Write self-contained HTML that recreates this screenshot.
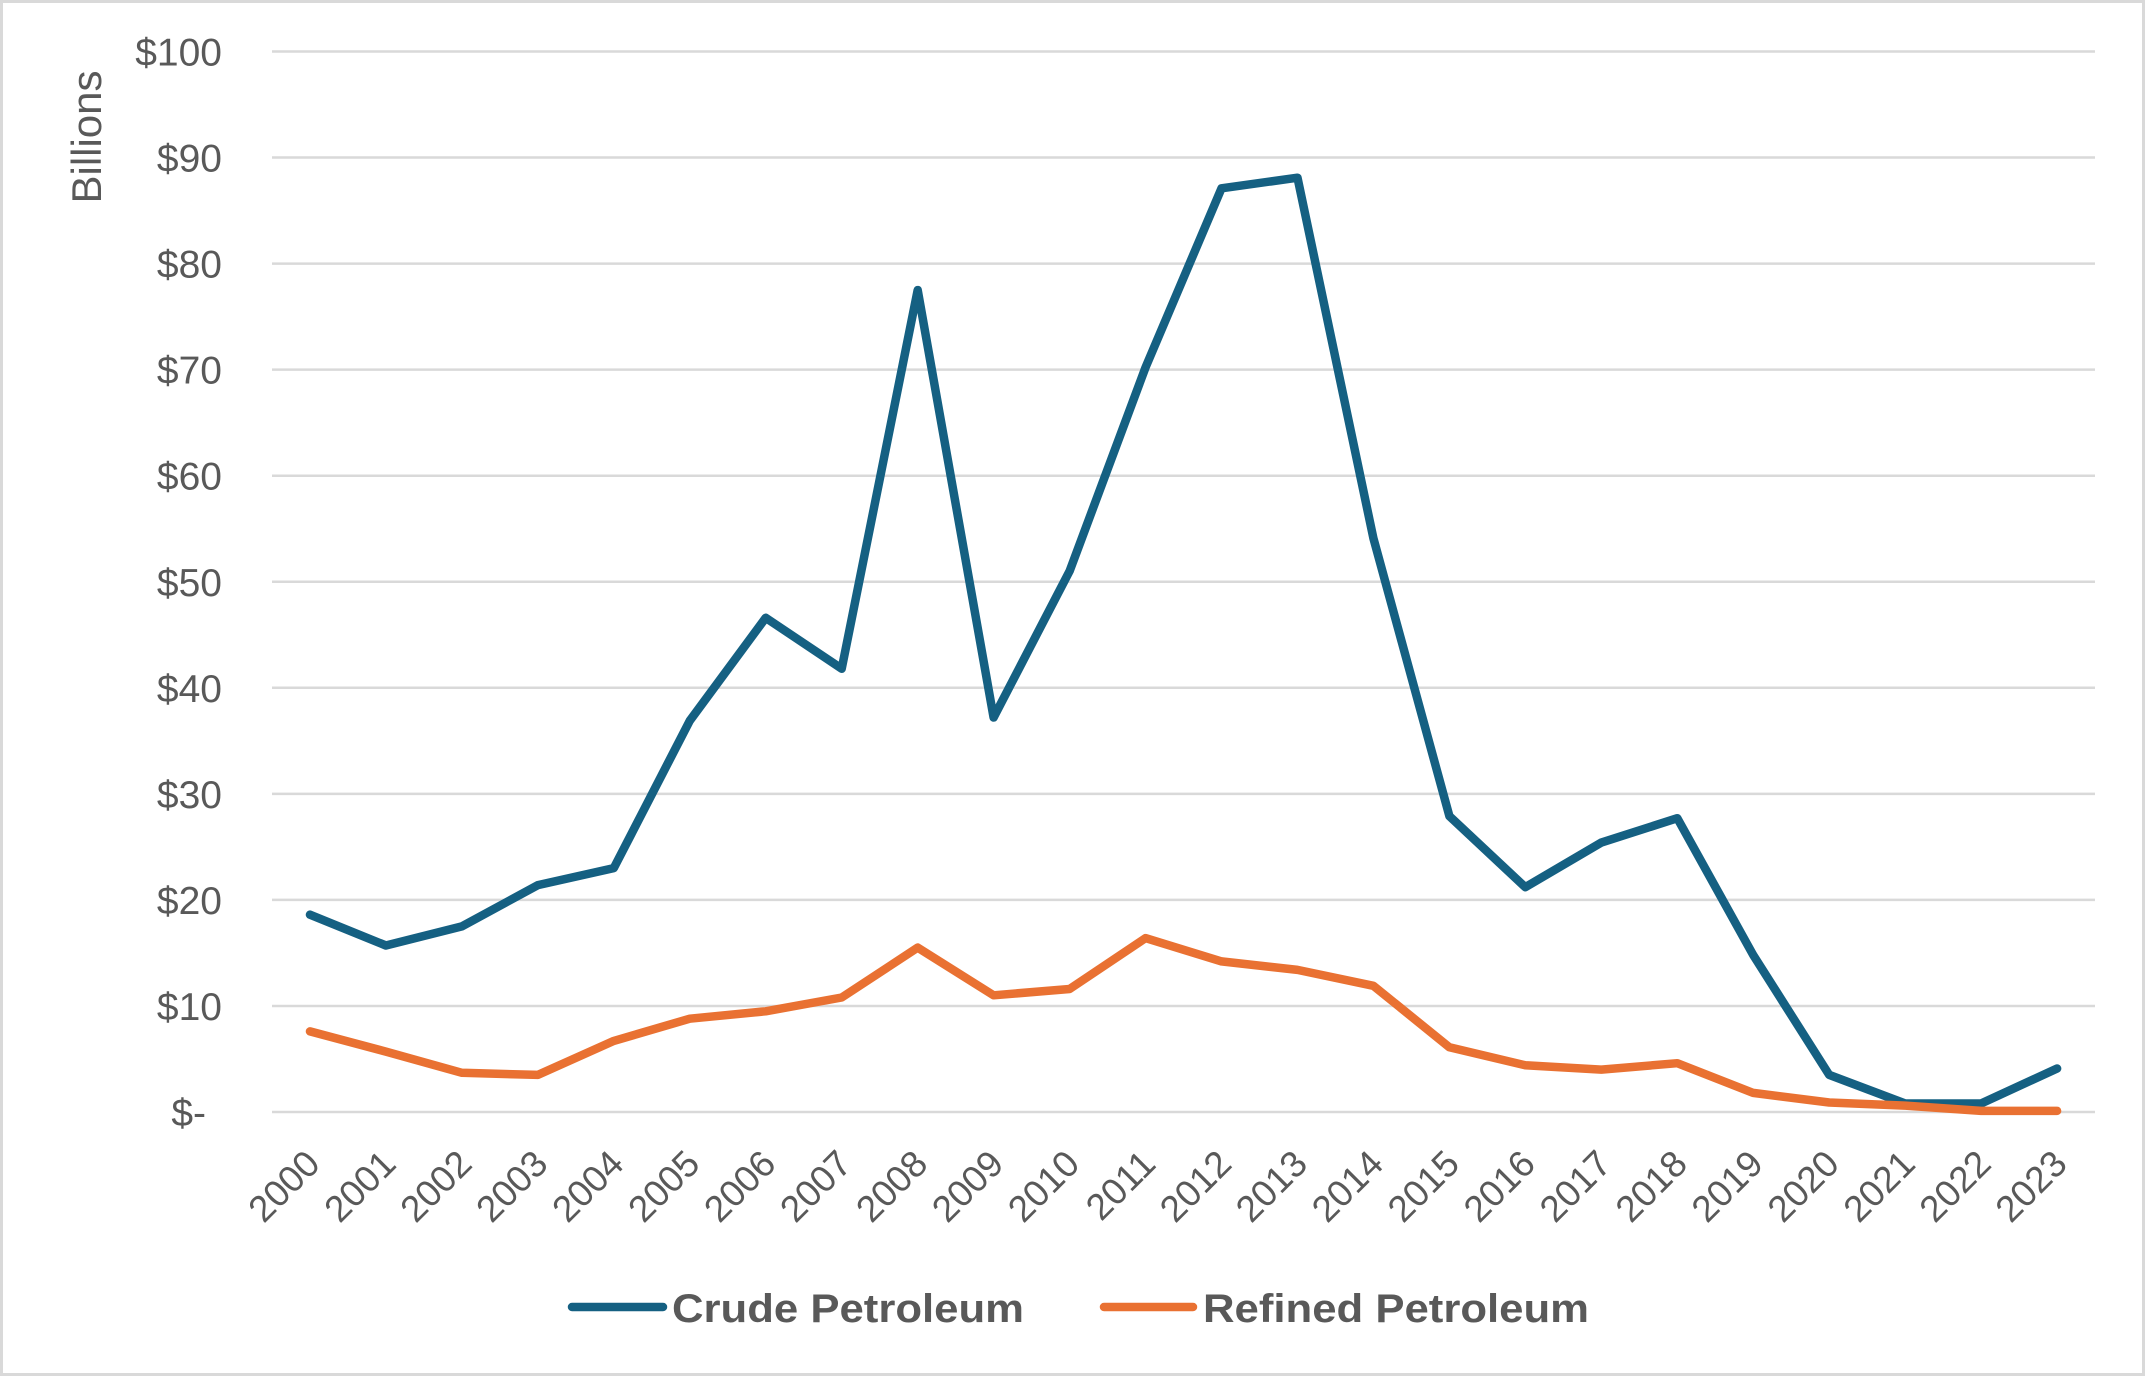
<!DOCTYPE html>
<html><head><meta charset="utf-8"><style>
html,body{margin:0;padding:0;background:#fff;}
svg{display:block;}
text{font-family:"Liberation Sans",Arial,sans-serif;fill:#595959;}
</style></head><body>
<svg width="2147" height="1378" viewBox="0 0 2147 1378" xmlns="http://www.w3.org/2000/svg">
<rect x="1.5" y="1.5" width="2142" height="1373" fill="#fff" stroke="#d9d9d9" stroke-width="3"/>
<g id="grid" stroke="#d9d9d9" stroke-width="2.5"></g>
<g id="ylab" font-size="39" text-anchor="end"></g>
<g id="xlab" font-size="37" text-anchor="end"></g>
<text transform="translate(101,137) rotate(-90)" font-size="42" text-anchor="middle">Billions</text>
<polyline id="crude" fill="none" stroke="#156082" stroke-width="8.5" stroke-linejoin="round" stroke-linecap="round"/>
<polyline id="ref" fill="none" stroke="#E97132" stroke-width="8.5" stroke-linejoin="round" stroke-linecap="round"/>
<line x1="572" y1="1307" x2="663" y2="1307" stroke="#156082" stroke-width="8.5" stroke-linecap="round"/>
<text x="672" y="1322" font-size="40" font-weight="bold" textLength="352" lengthAdjust="spacingAndGlyphs">Crude Petroleum</text>
<line x1="1104" y1="1307" x2="1193" y2="1307" stroke="#E97132" stroke-width="8.5" stroke-linecap="round"/>
<text x="1203" y="1322" font-size="40" font-weight="bold" textLength="386" lengthAdjust="spacingAndGlyphs">Refined Petroleum</text>
</svg>
<script>
var NS="http://www.w3.org/2000/svg";
function Y(v){return 1112-v*10.605;}
function X(i){return 272+(i+0.5)*75.96;}
var g=document.getElementById('grid'),yl=document.getElementById('ylab'),xl=document.getElementById('xlab');
for(var k=0;k<=10;k++){
 var l=document.createElementNS(NS,'line');l.setAttribute('x1',272);l.setAttribute('x2',2095);
 l.setAttribute('y1',Y(k*10));l.setAttribute('y2',Y(k*10));g.appendChild(l);
 var t=document.createElementNS(NS,'text');t.setAttribute('x',k==0?206:222);t.setAttribute('y',Y(k*10)+14);
 t.textContent=k==0?'$-':'$'+(k*10);yl.appendChild(t);
}
for(var i=0;i<24;i++){
 var t=document.createElementNS(NS,'text');var x=X(i)+12,y=1166;
 t.setAttribute('transform','translate('+x+','+y+') rotate(-45)');t.textContent=2000+i;xl.appendChild(t);
}
var c=[18.6,15.7,17.5,21.4,23,36.9,46.6,41.8,77.5,37.2,51,70.2,87.1,88.1,54.1,27.9,21.2,25.4,27.7,14.8,3.5,0.8,0.8,4.1];
var r=[7.6,5.7,3.7,3.5,6.7,8.8,9.5,10.8,15.5,11,11.6,16.4,14.2,13.4,11.9,6.1,4.4,4,4.6,1.8,0.9,0.6,0.1,0.1];
function pts(a){return a.map(function(v,i){return X(i).toFixed(1)+','+Y(v).toFixed(1);}).join(' ');}
document.getElementById('crude').setAttribute('points',pts(c));
document.getElementById('ref').setAttribute('points',pts(r));
</script>
</body></html>
